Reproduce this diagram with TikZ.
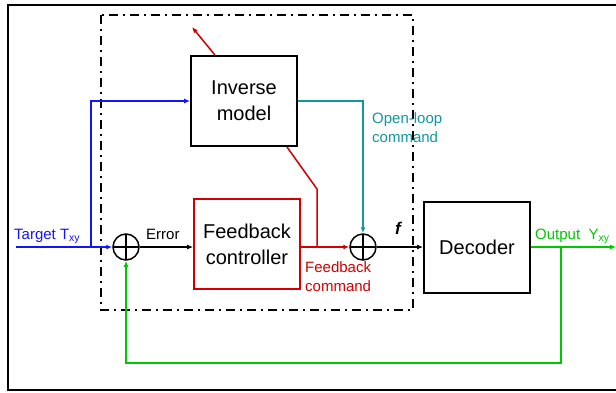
\documentclass[tikz,border=0pt]{standalone}
\usepackage{fontspec}
\setmainfont{Liberation Sans}
\usetikzlibrary{positioning,arrows.meta}
\definecolor{tgtblue}{RGB}{20,20,250}
\definecolor{olteal}{RGB}{20,150,160}
\definecolor{fbred}{RGB}{210,0,0}
\definecolor{outgreen}{RGB}{0,200,0}
\begin{document}
\begin{tikzpicture}[x=1pt,y=-1pt,
  b/.style={draw=black,line width=1.8pt,minimum width=106pt,minimum height=90pt,align=center,inner sep=0pt,font=\fontsize{20}{26}\selectfont},
  sum/.style={draw=black,circle,line width=1.5pt,minimum size=26pt,inner sep=0pt,
    path picture={\draw[line width=1.5pt] (path picture bounding box.north) -- (path picture bounding box.south)
      (path picture bounding box.west) -- (path picture bounding box.east);}},
  a/.style={-{Latex[length=6pt,width=5pt]},line width=1.5pt},
  l/.style={font=\fontsize{15}{19}\selectfont,align=left,inner sep=0pt}]
\useasboundingbox (0,0) rectangle (616,392);
\draw[line width=1.6pt] (8,5) rectangle (640,390);
\draw[line width=2.2pt,dash pattern=on 9pt off 5pt on 2pt off 5pt] (101,15) rectangle (413,310);
\node[b] (inv) at (244,101) {Inverse\\model};
\node[b,draw=fbred] (fb) at (247,244) {Feedback\\controller};
\node[b,minimum height=91pt] (dec) at (477,247.5) {Decoder};
\node[sum] (s1) at (126,247) {};
\node[sum] (s2) at (363,247) {};
\coordinate (tin) at (16,247);
\coordinate (tb) at (91,247);
\coordinate (bend) at (317,189);
\coordinate (fbk) at (317,247);
\coordinate (up) at (192,27);
\coordinate (out) at (616,247);
\coordinate (gb) at (561,247);
% target and open loop
\draw[a,tgtblue] (tin) -- (s1);
\draw[a,tgtblue] (tb) |- (inv.west);
\draw[a,olteal] (inv.east) -| (s2.north);
% error and feedback
\draw[a] (s1) -- (fb.west |- s1);
\draw[a,fbred] (fb.east |- s2) -- (s2);
\draw[fbred,line width=1.5pt] ([xshift=-11pt]inv.south east) -- (bend) -- (fbk);
\draw[a,fbred] ([xshift=-29pt]inv.north) -- (up);
\draw[a] (s2) -- (dec.west |- s2);
% output
\draw[a,outgreen] (dec.east |- out) -- (out);
\draw[a,outgreen] (gb) -- (gb |- 0,363) -| (s1.south);
\node[l,tgtblue,anchor=base west] at (14,239) {Target T\textsubscript{xy}};
\node[l,anchor=base west] at (146,239) {Error};
\node[l,olteal,anchor=base west] at (372,142) {Open-loop\\command};
\node[l,fbred,anchor=base west] at (305,291) {Feedback\\command};
\node[anchor=base west,inner sep=0pt,font=\fontsize{17}{19}\selectfont\itshape\bfseries] at (395,234) {f};
\node[l,outgreen,anchor=base west] at (535,239) {Output~~Y\textsubscript{xy}};
\end{tikzpicture}
\end{document}
